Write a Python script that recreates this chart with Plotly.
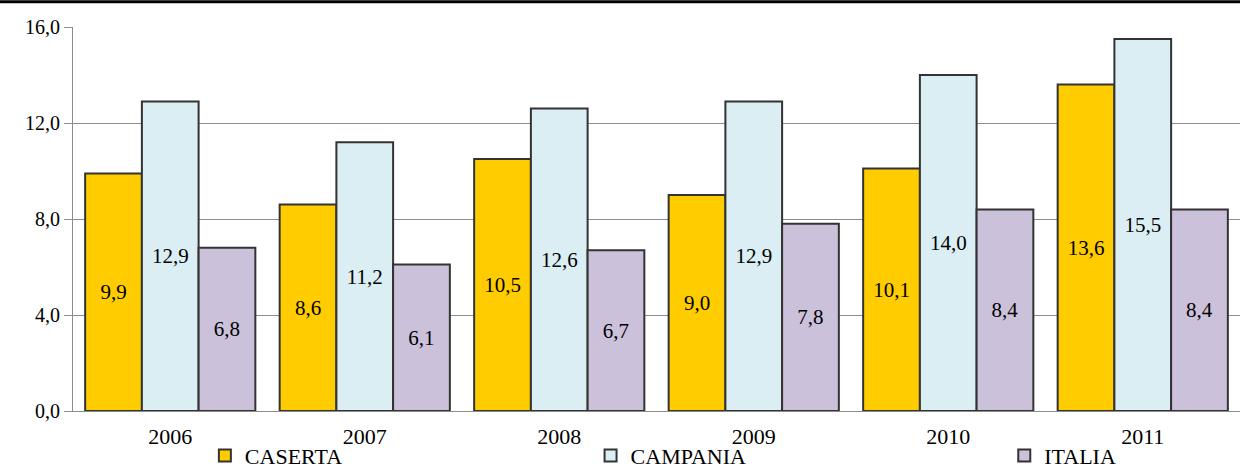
import plotly.graph_objects as go

years = ["2006", "2007", "2008", "2009", "2010", "2011"]
caserta = [9.9, 8.6, 10.5, 9.0, 10.1, 13.6]
campania = [12.9, 11.2, 12.6, 12.9, 14.0, 15.5]
italia = [6.8, 6.1, 6.7, 7.8, 8.4, 8.4]

series = [("CASERTA", caserta, "#FFCC00", "legend", 0.113),
          ("CAMPANIA", campania, "#DAEEF3", "legend2", 0.4435),
          ("ITALIA", italia, "#CCC1DA", "legend3", 0.798)]

FONT = "Liberation Serif, Times New Roman, serif"
fig = go.Figure()
legends = {}
for name, vals, col, lg, lx in series:
    fig.add_trace(go.Bar(
        name=name, x=years, y=vals, legend=lg,
        marker=dict(color=col, line=dict(color="#333333", width=2)),
        text=[f"{v:.1f}".replace(".", ",") for v in vals],
        textposition="inside", insidetextanchor="middle",
        textangle=0,
        textfont=dict(family=FONT, size=21, color="black"),
    ))
    legends[lg] = dict(orientation="h", x=lx, y=-0.062, xanchor="left", yanchor="top",
                       bgcolor="rgba(0,0,0,0)",
                       font=dict(family=FONT, size=22, color="black"))

fig.update_layout(
    width=1240, height=472,
    margin=dict(l=73, r=0, t=27, b=61, autoexpand=False),
    paper_bgcolor="white", plot_bgcolor="white",
    barmode="group", bargap=0.125, bargroupgap=0,
    separators=",.",
    font=dict(family=FONT, color="black"),
    showlegend=True,
    **legends,
)
fig.update_yaxes(range=[0, 16], dtick=4, tickformat=".1f",
                 showgrid=True, gridcolor="#8c8c8c", gridwidth=1,
                 showline=True, linecolor="#8c8c8c", linewidth=1,
                 ticks="outside", ticklen=8, tickcolor="#8c8c8c",
                 tickfont=dict(family=FONT, size=20, color="black"),
                 zeroline=False)
fig.update_xaxes(showline=True, linecolor="#8c8c8c", linewidth=1,
                 ticks="", ticklabelstandoff=6,
                 tickfont=dict(family=FONT, size=22, color="black"))
fig.add_shape(type="line", xref="paper", yref="paper",
              x0=-0.1, x1=1.1, y0=1.066, y1=1.066,
              line=dict(color="black", width=3))
fig.write_html("out.html")
